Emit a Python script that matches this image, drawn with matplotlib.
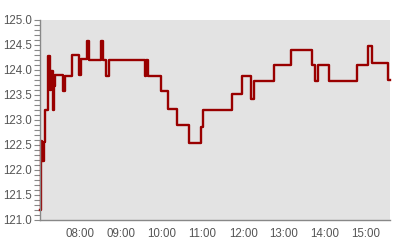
import matplotlib
matplotlib.use('Agg')
import numpy as np
import pandas as pd
import matplotlib.pyplot as plt
import matplotlib.dates as mdates
from matplotlib.ticker import MultipleLocator, FormatStrFormatter

# step changes: time of day, price
times = ['07:00', '07:02', '07:04', '07:06', '07:08', '07:13', '07:15', '07:17', '07:19',
         '07:21', '07:23', '07:34', '07:37', '07:48', '07:58', '08:01', '08:10', '08:13',
         '08:30', '08:33', '08:37', '08:42', '09:35', '09:37', '09:39', '09:59', '10:09',
         '10:22', '10:40', '10:57', '11:00', '11:44', '11:58', '12:11', '12:15', '12:45',
         '13:10', '13:41', '13:45', '13:50', '14:06', '14:48', '15:04', '15:09', '15:33',
         '15:36']
prices = [121.2, 122.57, 122.17, 122.55, 123.2, 124.28, 123.6, 123.97, 123.2,
          123.67, 123.9, 123.57, 123.88, 124.29, 123.9, 124.22, 124.57, 124.2,
          124.57, 124.2, 123.88, 124.2, 123.88, 124.2, 123.88, 123.57, 123.22,
          122.89, 122.53, 122.85, 123.19, 123.51, 123.87, 123.41, 123.77, 124.09,
          124.4, 124.09, 123.77, 124.09, 123.77, 124.09, 124.47, 124.13, 123.8,
          123.8]

t=pd.to_datetime(['2024-01-02 '+s for s in times])

fig=plt.figure(figsize=(4,2.4), dpi=100)
ax=fig.add_axes([0.1, 0.085, 0.875, 0.832])
ax.set_facecolor('#e3e3e3')

ax.plot(t, prices, color='#990000', linewidth=1.7, drawstyle='steps-post', clip_on=False)

ax.set_xlim(t[0]+pd.Timedelta(seconds=30), t[-1])
ax.set_ylim(121, 125)

ax.yaxis.set_major_locator(MultipleLocator(0.5))
ax.yaxis.set_minor_locator(MultipleLocator(0.1))
ax.yaxis.set_major_formatter(FormatStrFormatter('%.1f'))
ax.xaxis.set_major_locator(mdates.HourLocator())
ax.xaxis.set_major_formatter(mdates.DateFormatter('%H:%M'))

for s in ['top', 'right']:
	ax.spines[s].set_visible(False)
for s in ['left', 'bottom']:
	ax.spines[s].set_color('#888888')
	ax.spines[s].set_linewidth(1)

ax.tick_params(axis='y', which='both', length=4, width=0.8, color='#888888', pad=2,
               labelsize=8.3, labelcolor='#555555')
ax.tick_params(axis='x', length=0, pad=6, labelsize=8.3, labelcolor='#555555')
for lab in ax.get_xticklabels()+ax.get_yticklabels():
	lab.set_fontfamily('Liberation Sans')

plt.savefig('out.png', dpi=100)
